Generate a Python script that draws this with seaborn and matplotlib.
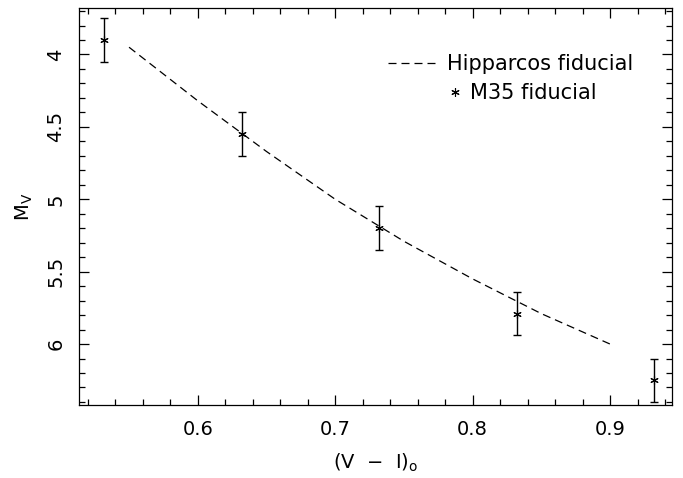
#!/usr/bin/env python3
import matplotlib
matplotlib.use("Agg")
import matplotlib.pyplot as plt
from matplotlib.ticker import MultipleLocator, FormatStrFormatter
import seaborn as sns

# Hipparcos fiducial sequence (dashed)
hip_color = [0.55, 0.60, 0.65, 0.70, 0.75, 0.80, 0.85, 0.90]
hip_mv = [3.95, 4.32, 4.67, 5.00, 5.29, 5.55, 5.79, 6.00]

# M35 fiducial points
m35_color = [0.532, 0.632, 0.732, 0.832, 0.932]
m35_mv = [3.90, 4.55, 5.20, 5.79, 6.25]
m35_err = [0.15, 0.15, 0.15, 0.15, 0.15]


def main() -> None:
    sns.set_theme(style="ticks")
    plt.rcParams["font.family"] = ["DejaVu Sans"]
    plt.rcParams["mathtext.fontset"] = "dejavusans"
    plt.rcParams["text.color"] = "black"

    fs = 14
    fig = plt.figure(figsize=(6.83, 4.78), dpi=100)
    ax = fig.add_axes([0.1157, 0.153, 0.868, 0.830])

    sns.lineplot(x=hip_color, y=hip_mv, color="black", lw=0.9, linestyle=(0, (6.4, 4)),
                 sort=False, ax=ax, legend=False)
    ax.errorbar(m35_color, m35_mv, yerr=m35_err, fmt="none", ecolor="black",
                elinewidth=1.0, capsize=3, capthick=1.0)
    ax.plot(m35_color, m35_mv, linestyle="none", marker=(6, 2, 0), ms=6,
            mec="black", mew=0.8, color="black")

    ax.set_xlim(0.5136, 0.945)
    ax.set_ylim(6.42, 3.68)

    ax.xaxis.set_major_locator(MultipleLocator(0.1))
    ax.xaxis.set_minor_locator(MultipleLocator(0.02))
    ax.yaxis.set_major_locator(MultipleLocator(0.5))
    ax.yaxis.set_minor_locator(MultipleLocator(0.1))
    ax.xaxis.set_major_formatter(FormatStrFormatter("%g"))
    ax.yaxis.set_major_formatter(FormatStrFormatter("%g"))
    ax.tick_params(which="both", direction="in", top=True, right=True, width=0.9,
                   colors="black", labelcolor="black")
    ax.tick_params(which="major", length=7)
    ax.tick_params(which="minor", length=4)
    ax.tick_params(axis="x", which="major", pad=11, labelsize=fs)
    ax.tick_params(axis="y", which="major", pad=10, labelsize=fs)
    for lab in ax.get_yticklabels():
        lab.set_rotation(90)
        lab.set_va("center")
    for s in ax.spines.values():
        s.set_linewidth(0.9)
        s.set_color("black")

    ax.set_xlabel(r"(V  $-$  I)$_\mathregular{o}$", fontsize=fs, labelpad=9, color="black")
    ax.set_ylabel(r"M$_\mathregular{V}$", fontsize=fs, labelpad=8, color="black")

    # two separate legend rows, offset like the original
    lfs = 15
    hline, = ax.plot([], [], color="black", lw=0.9, linestyle=(0, (6.4, 4)))
    hstar, = ax.plot([], [], linestyle="none", marker=(6, 2, 0), ms=6, mec="black", mew=0.8)
    leg1 = ax.legend([hline], ["Hipparcos fiducial"], loc="center left",
                     bbox_to_anchor=(0.521, 0.859), frameon=False, fontsize=lfs,
                     handlelength=2.5, handletextpad=0.35, borderpad=0, borderaxespad=0,
                     labelcolor="black")
    ax.add_artist(leg1)
    ax.legend([hstar], ["M35 fiducial"], loc="center left",
              bbox_to_anchor=(0.618, 0.786), frameon=False, fontsize=lfs,
              handlelength=0.9, handletextpad=0.3, borderpad=0, borderaxespad=0,
              labelcolor="black")

    fig.savefig("out.png", dpi=100)
    plt.close(fig)


if __name__ == "__main__":
    main()
